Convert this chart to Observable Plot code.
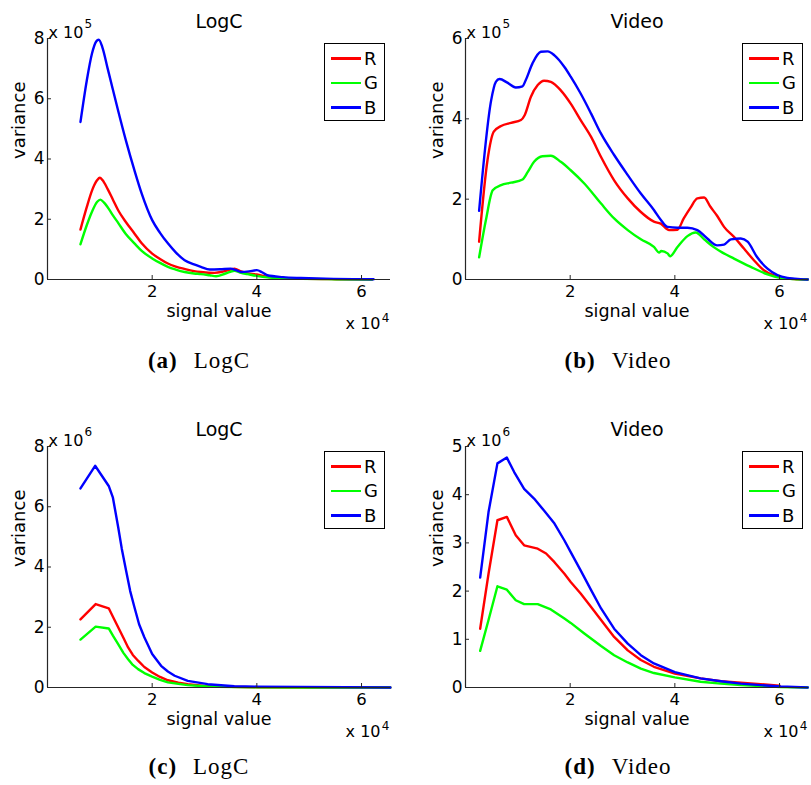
<!DOCTYPE html>
<html><head><meta charset="utf-8">
<script src="https://cdn.jsdelivr.net/npm/d3@7"></script>
<script src="https://cdn.jsdelivr.net/npm/@observablehq/plot@0.6"></script>
<style>
html,body{margin:0;padding:0;background:#fff;}
#fig{position:relative;width:811px;height:785px;overflow:hidden;font-family:"DejaVu Sans",sans-serif;}
.panel{position:absolute;}
.legend{position:absolute;border:1.3px solid #000;background:#fff;box-sizing:border-box;}
.legend .row{position:absolute;left:0;height:0;}
.legend .ln{position:absolute;left:6px;width:30px;height:2.4px;margin-top:-1.2px;}
.legend .lb{position:absolute;left:39px;top:-11px;font-size:18px;line-height:22px;color:#000;}
.caption{position:absolute;transform:translateX(-50%);font-family:"Liberation Serif",serif;font-size:23px;white-space:nowrap;letter-spacing:1px;color:#000;}
.caption b{margin-right:16px;}
</style></head><body><div id="fig"></div>
<script>
// ---- series / legend ----
const seriesNames = ["R", "G", "B"];
const seriesColors = ["#ff0000", "#00ff00", "#0000ff"];

// ---- axes ----
const xDomain = [0, 6.5535];        // signal value, x 10^4
const xTicks = [2, 4, 6];
const xLabel = "signal value";
const yLabel = "variance";
const xExpBase = "x 10";
const xExpPow = "4";

// ---- panel (a) LogC, variance x 10^5 ----
const aR_x = [0.63,0.75,0.85,0.95,1.0,1.05,1.15,1.25,1.35,1.5,1.66,1.8,2.0,2.15,2.3,2.45,2.62,2.8,2.93,3.19,3.35,3.5,3.57,3.7,3.82,4.0,4.2,4.5,4.84,5.5,6.2];
const aR_y = [1.66,2.4,2.95,3.3,3.38,3.3,3.0,2.65,2.3,1.9,1.53,1.2,0.86,0.68,0.53,0.43,0.35,0.28,0.25,0.22,0.26,0.33,0.36,0.27,0.2,0.17,0.09,0.05,0.03,0.01,0.0];
const aG_x = [0.63,0.75,0.85,0.95,1.01,1.08,1.18,1.25,1.35,1.5,1.66,1.8,2.0,2.15,2.3,2.45,2.62,2.8,2.93,3.1,3.22,3.4,3.57,3.7,3.82,4.0,4.2,4.5,4.84,5.5,6.2];
const aG_y = [1.17,1.8,2.25,2.58,2.65,2.55,2.32,2.13,1.88,1.5,1.2,0.95,0.7,0.55,0.42,0.33,0.25,0.2,0.18,0.14,0.11,0.2,0.29,0.22,0.18,0.12,0.07,0.04,0.02,0.01,0.0];
const aB_x = [0.63,0.75,0.85,0.93,0.98,1.05,1.15,1.25,1.35,1.5,1.66,1.8,2.0,2.15,2.3,2.45,2.62,2.8,2.93,3.1,3.3,3.5,3.6,3.7,3.85,4.0,4.1,4.2,4.5,4.84,5.47,6.23];
const aB_y = [5.23,6.6,7.5,7.9,7.96,7.7,7.0,6.3,5.6,4.6,3.63,2.85,1.97,1.55,1.2,0.9,0.64,0.5,0.42,0.33,0.34,0.36,0.31,0.25,0.27,0.31,0.24,0.14,0.08,0.05,0.02,0.01];

// ---- panel (b) Video, variance x 10^5 ----
const bR_x = [0.26,0.42,0.54,0.68,0.87,1.06,1.13,1.25,1.38,1.5,1.63,1.82,2.01,2.2,2.4,2.59,2.84,3.1,3.35,3.6,3.73,3.89,4.05,4.17,4.3,4.43,4.56,4.68,4.81,4.94,5.13,5.32,5.51,5.7,5.89,6.08,6.28,6.54];
const bR_y = [0.94,2.97,3.68,3.82,3.9,3.97,4.09,4.55,4.84,4.95,4.92,4.71,4.38,3.97,3.55,3.05,2.47,2.02,1.68,1.44,1.39,1.23,1.24,1.52,1.79,2.02,2.04,1.81,1.58,1.31,1.06,0.77,0.48,0.23,0.1,0.04,0.01,0.0];
const bG_x = [0.26,0.39,0.52,0.68,0.87,1.09,1.19,1.31,1.47,1.63,1.82,2.01,2.27,2.59,2.84,3.1,3.35,3.6,3.7,3.74,3.86,3.91,4.05,4.24,4.4,4.56,4.75,4.91,5.13,5.44,5.77,6.02,6.28,6.54];
const bG_y = [0.55,1.48,2.22,2.35,2.41,2.49,2.68,2.93,3.07,3.08,2.93,2.72,2.39,1.89,1.52,1.23,1.0,0.81,0.67,0.71,0.65,0.58,0.81,1.08,1.17,1.0,0.8,0.67,0.52,0.32,0.13,0.04,0.01,0.0];
const bB_x = [0.26,0.49,0.58,0.65,0.8,0.96,1.09,1.15,1.28,1.44,1.57,1.7,1.89,2.01,2.2,2.4,2.59,2.84,3.1,3.35,3.6,3.73,3.86,4.05,4.24,4.43,4.62,4.81,4.94,5.07,5.26,5.39,5.57,5.77,5.96,6.15,6.4,6.54];
const bB_y = [1.71,4.46,4.92,4.99,4.9,4.78,4.81,4.96,5.38,5.67,5.68,5.58,5.29,5.05,4.63,4.13,3.63,3.1,2.6,2.14,1.73,1.49,1.31,1.29,1.29,1.23,1.02,0.85,0.87,1.0,1.02,0.94,0.56,0.27,0.11,0.04,0.01,0.0];

// ---- panel (c) LogC, variance x 10^6 ----
const cR_x = [0.63,0.92,1.17,1.25,1.35,1.45,1.54,1.63,1.73,1.85,2.0,2.15,2.3,2.5,2.68,3.0,3.25,4.0,5.0,6.55];
const cR_y = [2.26,2.77,2.63,2.35,2.0,1.65,1.33,1.08,0.89,0.68,0.5,0.35,0.24,0.16,0.11,0.05,0.03,0.01,0.0,0.0];
const cG_x = [0.63,0.92,1.17,1.25,1.35,1.45,1.54,1.63,1.73,1.85,2.0,2.15,2.3,2.5,2.68,3.0,3.25,4.0,5.0,6.55];
const cG_y = [1.59,2.02,1.96,1.72,1.44,1.15,0.94,0.75,0.61,0.48,0.36,0.25,0.17,0.12,0.08,0.04,0.02,0.01,0.0,0.0];
const cB_x = [0.63,0.91,1.17,1.25,1.35,1.42,1.5,1.58,1.66,1.75,1.85,2.0,2.17,2.3,2.43,2.68,3.06,3.57,4.0,4.84,6.55];
const cB_y = [6.61,7.36,6.69,6.3,5.33,4.6,3.89,3.2,2.67,2.1,1.67,1.11,0.72,0.53,0.39,0.22,0.11,0.04,0.03,0.02,0.0];

// ---- panel (d) Video, variance x 10^6 ----
const dR_x = [0.28,0.44,0.61,0.79,0.96,1.12,1.38,1.54,1.7,1.89,2.01,2.2,2.4,2.59,2.84,3.1,3.35,3.6,4.0,4.49,4.88,5.26,5.64,6.0];
const dR_y = [1.22,2.36,3.47,3.54,3.16,2.95,2.88,2.78,2.6,2.36,2.19,1.95,1.67,1.4,1.05,0.77,0.57,0.43,0.29,0.19,0.13,0.1,0.07,0.04];
const dG_x = [0.28,0.44,0.61,0.79,0.96,1.12,1.38,1.63,1.89,2.01,2.27,2.59,2.84,3.1,3.35,3.6,4.0,4.49,4.88,5.26,5.64,6.02,6.28,6.54];
const dG_y = [0.76,1.4,2.1,2.03,1.81,1.73,1.73,1.62,1.43,1.34,1.12,0.86,0.67,0.52,0.39,0.3,0.21,0.12,0.08,0.05,0.03,0.01,0.005,0.0];
const dB_x = [0.28,0.44,0.61,0.79,0.93,1.12,1.31,1.5,1.7,1.89,2.01,2.2,2.4,2.59,2.84,3.1,3.35,3.6,4.0,4.49,4.88,5.26,5.64,6.02,6.54];
const dB_y = [2.28,3.64,4.65,4.77,4.47,4.12,3.92,3.67,3.4,3.05,2.81,2.43,2.02,1.64,1.22,0.91,0.67,0.5,0.32,0.19,0.13,0.08,0.05,0.02,0.0];

const panels = [
  {id:"a", title:"LogC",  caption:"LogC",  yPow:"5", yMax:8, yTicks:[0,2,4,6,8], curve:"monotone-x",
   xs:[aR_x,aG_x,aB_x], ys:[aR_y,aG_y,aB_y], left:0,   top:0,   width:400, ml:47, mr:10, capX:199, capY:348},
  {id:"b", title:"Video", caption:"Video", yPow:"5", yMax:6, yTicks:[0,2,4,6], curve:"monotone-x",
   xs:[bR_x,bG_x,bB_x], ys:[bR_y,bG_y,bB_y], left:400, top:0,   width:411, ml:65, mr:3,  capX:618, capY:348},
  {id:"c", title:"LogC",  caption:"LogC",  yPow:"6", yMax:8, yTicks:[0,2,4,6,8], curve:"linear",
   xs:[cR_x,cG_x,cB_x], ys:[cR_y,cG_y,cB_y], left:0,   top:408, width:400, ml:47, mr:10, capX:199, capY:754},
  {id:"d", title:"Video", caption:"Video", yPow:"6", yMax:5, yTicks:[0,1,2,3,4,5], curve:"linear",
   xs:[dR_x,dG_x,dB_x], ys:[dR_y,dG_y,dB_y], left:400, top:408, width:411, ml:65, mr:3,  capX:618, capY:754}
];

const H = 340, MT = 38, MB = 61;
const fig = d3.select("#fig");
const fmt = d => String(d);

for (const p of panels) {
  const data = [];
  seriesNames.forEach((s, i) => p.xs[i].forEach((x, j) => data.push({series: s, x, y: p.ys[i][j]})));
  const chart = Plot.plot({
    width: p.width, height: H,
    marginLeft: p.ml, marginRight: p.mr, marginTop: MT, marginBottom: MB,
    style: {fontFamily: '"DejaVu Sans", sans-serif', fontSize: "16px", color: "#000", background: "transparent", overflow: "visible"},
    x: {domain: xDomain},
    y: {domain: [0, p.yMax]},
    color: {domain: seriesNames, range: seriesColors},
    marks: [
      Plot.line(data, {x: "x", y: "y", z: "series", stroke: "series", strokeWidth: 2.4, curve: p.curve}),
      Plot.ruleY([0], {stroke: "#262626", strokeWidth: 1.2}),
      Plot.ruleX([xDomain[0]], {stroke: "#262626", strokeWidth: 1.2}),
      Plot.axisX({ticks: xTicks, tickFormat: fmt, label: null, tickSize: -4, tickPadding: 10, fontSize: 16.5, stroke: "#262626"}),
      Plot.axisY({ticks: p.yTicks, tickFormat: fmt, label: null, tickSize: -4, tickPadding: 7, fontSize: 17, stroke: "#262626"}),
      Plot.text([p.title], {text: d => d, frameAnchor: "top", dy: -24, fontSize: 19}),
      Plot.text([xExpBase], {text: d => d, frameAnchor: "top-left", textAnchor: "start", dy: -12, dx: 1, fontSize: 16}),
      Plot.text([p.yPow], {text: d => d, frameAnchor: "top-left", textAnchor: "start", dy: -19, dx: 37, fontSize: 12}),
      Plot.text([xLabel], {text: d => d, frameAnchor: "bottom", dy: 37, fontSize: 17.5}),
      Plot.text([xExpBase], {text: d => d, frameAnchor: "bottom-right", textAnchor: "end", dy: 49, dx: -10, fontSize: 16}),
      Plot.text([xExpPow], {text: d => d, frameAnchor: "bottom-right", textAnchor: "end", dy: 42, dx: -1, fontSize: 12}),
      Plot.text([yLabel], {text: d => d, frameAnchor: "left", rotate: -90, dx: -28, fontSize: 18})
    ]
  });
  const div = fig.append("div").attr("class", "panel")
    .style("left", p.left + "px").style("top", p.top + "px");
  div.node().appendChild(chart);

  // legend box (top-right inside frame)
  const frameRight = p.left + p.width - p.mr;
  const lg = fig.append("div").attr("class", "legend")
    .style("left", (frameRight - 5 - 61) + "px").style("top", (p.top + MT + 5) + "px")
    .style("width", "61px").style("height", "78px");
  seriesNames.forEach((s, i) => {
    const row = lg.append("div").attr("class", "row").style("top", (14.5 + i * 24.5) + "px");
    row.append("div").attr("class", "ln").style("background", seriesColors[i]);
    row.append("div").attr("class", "lb").text(s);
  });

  // caption
  const cap = fig.append("div").attr("class", "caption")
    .style("left", p.capX + "px").style("top", p.capY + "px");
  cap.append("b").text("(" + p.id + ")");
  cap.append("span").text(p.caption);
}
</script>
</body></html>
